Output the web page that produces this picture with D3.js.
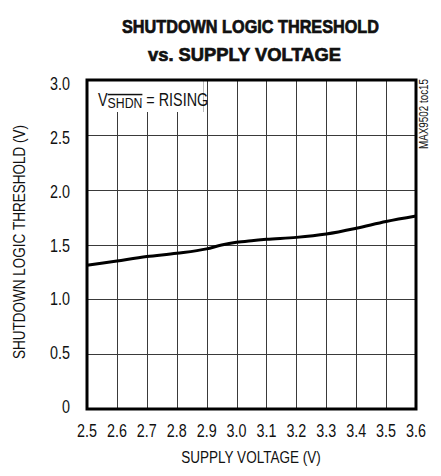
<!DOCTYPE html>
<html>
<head>
<meta charset="utf-8">
<script src="https://cdn.jsdelivr.net/npm/d3@7"></script>
<style>
  body { margin: 0; background: #fff; }
  text { font-family: "Liberation Sans", Arial, sans-serif; fill: #111; }
</style>
</head>
<body>
<svg id="chart" width="441" height="476"></svg>
<script>
// supply voltage (V) and rising shutdown threshold (V)
const supplyV = [2.5, 2.6, 2.7, 2.8, 2.9, 2.95, 3.0, 3.05, 3.1, 3.2, 3.3, 3.4, 3.5, 3.6];
const thresholdV = [1.31, 1.35, 1.39, 1.42, 1.46, 1.495, 1.52, 1.535, 1.547, 1.565, 1.596, 1.648, 1.71, 1.76];
const xTicks = [2.5, 2.6, 2.7, 2.8, 2.9, 3.0, 3.1, 3.2, 3.3, 3.4, 3.5, 3.6];
const yTicks = [0, 0.5, 1.0, 1.5, 2.0, 2.5, 3.0];

const margin = {top: 80, left: 87, right: 25, bottom: 67};
const W = 441, H = 476;
const NARROW = 0.82;
const svg = d3.select('#chart');

const x = d3.scaleLinear().domain([2.5, 3.6]).range([margin.left, W - margin.right]);
const y = d3.scaleLinear().domain([0, 3]).range([H - margin.bottom, margin.top]);

// squeezed text, the reference uses a narrow face
const narrow = (parent, px, py, str, size, anchor, rot) => {
  const g = parent.append('g').attr('transform', `translate(${px},${py})${rot ? ' rotate(' + rot + ')' : ''} scale(${NARROW},1)`);
  return g.append('text').attr('font-size', size).attr('text-anchor', anchor || 'start').text(str);
};

// grid
svg.append('g').selectAll('line').data(xTicks.slice(1, -1)).enter().append('line')
  .attr('x1', d => Math.round(x(d)) + 0.5).attr('x2', d => Math.round(x(d)) + 0.5)
  .attr('y1', y(0)).attr('y2', y(3))
  .attr('stroke', '#3a3a3a').attr('stroke-width', 1);
svg.append('g').selectAll('line').data(yTicks.slice(1, -1)).enter().append('line')
  .attr('x1', x(2.5)).attr('x2', x(3.6))
  .attr('y1', d => Math.round(y(d)) + 0.5).attr('y2', d => Math.round(y(d)) + 0.5)
  .attr('stroke', '#3a3a3a').attr('stroke-width', 1);

// label box
const lbl = svg.append('g');
lbl.append('rect').attr('x', x(2.5)).attr('y', y(3)).attr('width', 116.5).attr('height', 32).attr('fill', '#fff');
lbl.append('line').attr('x1', x(2.5) + 116.5).attr('x2', x(2.5) + 116.5).attr('y1', y(3)).attr('y2', y(3) + 32)
  .attr('stroke', '#bbb').attr('stroke-width', 1);
const t = narrow(lbl, 98, 106, null, 17.5);
t.append('tspan').text('V');
t.append('tspan').attr('font-size', 15).attr('dy', 2).attr('text-decoration', 'overline').text('SHDN');
t.append('tspan').attr('dy', -2).text(' = RISING');

// curve
svg.append('path')
  .datum(supplyV.map((v, i) => [v, thresholdV[i]]))
  .attr('fill', 'none').attr('stroke', '#000').attr('stroke-width', 3)
  .attr('d', d3.line().x(d => x(d[0])).y(d => y(d[1])).curve(d3.curveMonotoneX));

// frame
svg.append('rect').attr('x', x(2.5)).attr('y', y(3))
  .attr('width', x(3.6) - x(2.5)).attr('height', y(0) - y(3))
  .attr('fill', 'none').attr('stroke', '#000').attr('stroke-width', 3);

// tick labels
const xl = svg.append('g');
xTicks.forEach(d => narrow(xl, x(d), 437, d.toFixed(1), 17.5, 'middle'));
const yl = svg.append('g');
yTicks.forEach(d => narrow(yl, 70, y(d) + 4 + 2 * d, d === 0 ? '0' : d.toFixed(1), 17.5, 'end'));

// axis titles
narrow(svg, 251, 463, 'SUPPLY VOLTAGE (V)', 16.5, 'middle');
narrow(svg, 25, 242, 'SHUTDOWN LOGIC THRESHOLD (V)', 16.5, 'middle', -90);

// title
svg.append('text').attr('x', 122).attr('y', 33).attr('font-size', 18.5).attr('font-weight', 'bold')
  .attr('stroke', '#111').attr('stroke-width', 0.7)
  .attr('textLength', 257).attr('lengthAdjust', 'spacingAndGlyphs')
  .text('SHUTDOWN LOGIC THRESHOLD');
svg.append('text').attr('x', 148).attr('y', 61).attr('font-size', 18.5).attr('font-weight', 'bold')
  .attr('stroke', '#111').attr('stroke-width', 0.7)
  .attr('textLength', 193).attr('lengthAdjust', 'spacingAndGlyphs')
  .text('vs. SUPPLY VOLTAGE');

// side tag
narrow(svg, 428, 79, 'MAX9502 toc15', 12, 'end', -90).attr('fill', '#333');
</script>
</body>
</html>
